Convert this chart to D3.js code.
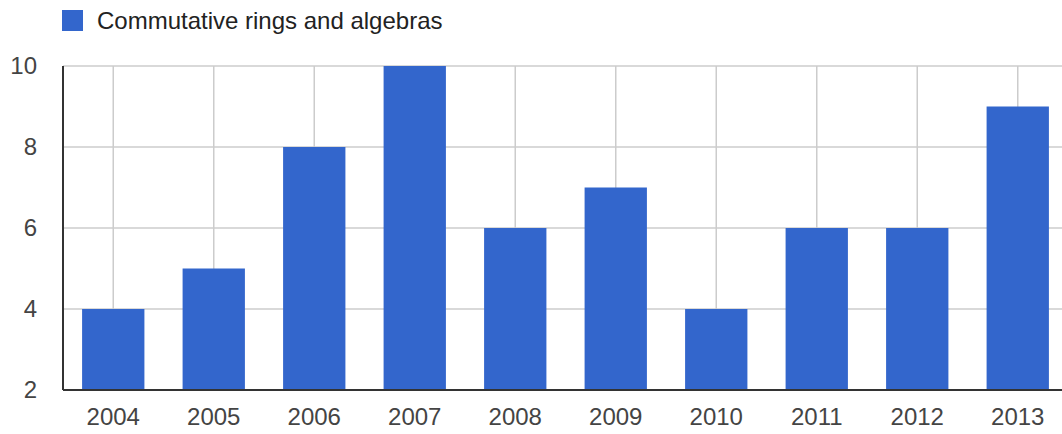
<!DOCTYPE html>
<html><head><meta charset="utf-8">
<script src="https://cdn.jsdelivr.net/npm/d3@7"></script>
<style>body{margin:0;background:#fff}svg{display:block}</style>
</head><body>
<svg id="c" width="1062" height="434"></svg>
<script>
const categories = ["2004","2005","2006","2007","2008","2009","2010","2011","2012","2013"];
const values = [4,5,8,10,6,7,4,6,6,9];
const yTicks = [2,4,6,8,10];
const seriesName = "Commutative rings and algebras";

(function(){
const svg = d3.select("#c");
const font = "'Liberation Sans', Arial, sans-serif";
const mLeft = 63, mRight = 1068, mTop = 66, mBottom = 390;

const x = d3.scaleBand().domain(categories).range([mLeft, mRight]).paddingInner(0.38).paddingOuter(0.19);
const xc = d => x(d) + x.bandwidth() / 2;
const y = d3.scaleLinear().domain([2,10]).range([mBottom, mTop]);

// horizontal gridlines
svg.append("g").selectAll("line").data(yTicks).join("line")
  .attr("x1", mLeft).attr("x2", 1062)
  .attr("y1", d => y(d)).attr("y2", d => y(d))
  .attr("stroke", "#cccccc").attr("stroke-width", 1.5);
// vertical gridlines
svg.append("g").selectAll("line").data(categories).join("line")
  .attr("x1", xc).attr("x2", xc)
  .attr("y1", mTop).attr("y2", mBottom)
  .attr("stroke", "#cccccc").attr("stroke-width", 1.5);

// bars
svg.append("g").selectAll("rect").data(categories).join("rect")
  .attr("x", d => x(d)).attr("width", x.bandwidth())
  .attr("y", (d,i) => y(values[i])).attr("height", (d,i) => mBottom - y(values[i]))
  .attr("fill", "#3366cc");

// axes lines
svg.append("line").attr("x1", mLeft).attr("x2", mLeft).attr("y1", mTop).attr("y2", mBottom)
  .attr("stroke", "#333").attr("stroke-width", 2);
svg.append("line").attr("x1", mLeft).attr("x2", 1062).attr("y1", mBottom).attr("y2", mBottom)
  .attr("stroke", "#333").attr("stroke-width", 2);

// y tick labels
svg.append("g").selectAll("text").data(yTicks).join("text")
  .attr("x", 37).attr("y", d => y(d)).attr("dy", "0.35em")
  .attr("text-anchor", "end").attr("font-family", font).attr("font-size", 24)
  .attr("fill", "#444").text(d => d);
// x tick labels
svg.append("g").selectAll("text").data(categories).join("text")
  .attr("x", xc).attr("y", 425)
  .attr("text-anchor", "middle").attr("font-family", font).attr("font-size", 24)
  .attr("fill", "#444").text(d => d);

// legend
svg.append("rect").attr("x", 62).attr("y", 10).attr("width", 21).attr("height", 21).attr("fill", "#3366cc");
svg.append("text").attr("x", 97).attr("y", 29).attr("font-family", font).attr("font-size", 24)
  .attr("fill", "#222").text(seriesName);
})();
</script>
</body></html>
